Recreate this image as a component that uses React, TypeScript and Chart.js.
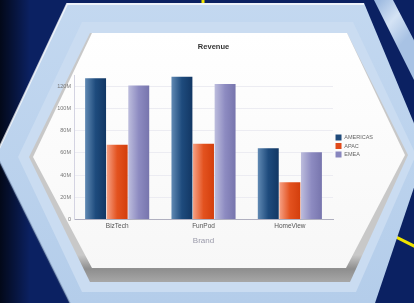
import React, { useEffect, useRef } from 'react';
import { Chart, registerables } from 'chart.js';

Chart.register(...registerables);

// ---- data (values in millions) ----
const brands = ['BizTech', 'FunPod', 'HomeView'];
const regionNames = ['AMERICAS', 'APAC', 'EMEA'];
const americas = [127, 128.5, 64.2];
const apac = [67.3, 68.2, 33.6];
const emea = [120.6, 122, 60.6];
const yTickValues = [0, 20, 40, 60, 80, 100, 120];
const yMax = 130;
const chartTitle = 'Revenue';
const xTitle = 'Brand';

const solidColors = ['#1f4a7a', '#e04a1a', '#8886be'];
const gradientStops = [
  ['#6089b3', '#1e4b7d', '#123764'],
  ['#f6a084', '#e3521f', '#d33e0c'],
  ['#bdbddd', '#8d8bc1', '#7775ad'],
];

const FONT = '"Liberation Sans", Arial, sans-serif';

function poly(ctx: CanvasRenderingContext2D, pts: number[][]) {
  ctx.beginPath();
  ctx.moveTo(pts[0][0], pts[0][1]);
  for (let i = 1; i < pts.length; i++) ctx.lineTo(pts[i][0], pts[i][1]);
  ctx.closePath();
}

const backdropPlugin = {
  id: 'backdrop',
  beforeDraw(chart: any) {
    const ctx: CanvasRenderingContext2D = chart.ctx;
    const W = chart.width;
    const H = chart.height;
    ctx.save();
    // navy background
    ctx.fillStyle = '#0b2162';
    ctx.fillRect(0, 0, W, H);
    const lg = ctx.createLinearGradient(0, 0, 30, 0);
    lg.addColorStop(0, 'rgba(0,0,0,0.75)');
    lg.addColorStop(1, 'rgba(0,0,0,0)');
    ctx.fillStyle = lg;
    ctx.fillRect(0, 0, 30, H);

    // yellow connector lines
    ctx.strokeStyle = '#f0e400';
    ctx.lineWidth = 3;
    ctx.beginPath();
    ctx.moveTo(203, 0);
    ctx.lineTo(203, 8);
    ctx.stroke();
    ctx.beginPath();
    ctx.moveTo(380, 229);
    ctx.lineTo(416, 247);
    ctx.stroke();

    // neighbouring frame strip (top right)
    const sg = ctx.createLinearGradient(380, 0, 414, 30);
    sg.addColorStop(0, '#9fbbe0');
    sg.addColorStop(0.5, '#d4e3f5');
    sg.addColorStop(1, '#a8c2e4');
    ctx.fillStyle = sg;
    poly(ctx, [[374, 0], [393, 0], [416, 44], [416, 84]]);
    ctx.fill();

    // outer hexagon frame
    const fg = ctx.createLinearGradient(0, 0, 0, H);
    fg.addColorStop(0, '#c3d8f0');
    fg.addColorStop(1, '#b4cdea');
    ctx.fillStyle = fg;
    poly(ctx, [[67, 3], [364, 3], [426, 152], [372, 312], [74, 312], [-4, 155]]);
    ctx.fill();
    // outer highlight edge
    ctx.strokeStyle = 'rgba(255,255,255,0.7)';
    ctx.lineWidth = 2;
    ctx.beginPath();
    ctx.moveTo(-4, 155);
    ctx.lineTo(67, 4);
    ctx.lineTo(364, 4);
    ctx.stroke();
    ctx.strokeStyle = 'rgba(60,80,120,0.35)';
    ctx.beginPath();
    ctx.moveTo(-4, 155);
    ctx.lineTo(74, 312);
    ctx.stroke();

    // inner bevel band
    ctx.fillStyle = '#cadcf1';
    poly(ctx, [[82, 22], [353, 22], [416, 155], [356, 292], [82, 292], [18, 157]]);
    ctx.fill();

    // panel shadow
    const pg = ctx.createLinearGradient(0, 255, 0, 283);
    pg.addColorStop(0, '#c8c8c8');
    pg.addColorStop(0.5, '#8e8e8e');
    pg.addColorStop(1, '#a9a9a9');
    ctx.fillStyle = pg;
    poly(ctx, [[90, 33], [347, 33], [408, 155], [350, 282], [90, 282], [29, 157]]);
    ctx.fill();

    // white panel
    const wg = ctx.createLinearGradient(0, 33, 0, 268);
    wg.addColorStop(0, '#ffffff');
    wg.addColorStop(1, '#f7f7f7');
    ctx.fillStyle = wg;
    poly(ctx, [[92, 33], [347, 33], [405, 155], [346, 268], [92, 268], [33, 157]]);
    ctx.fill();
    ctx.restore();
  },
};

const gradientBarsPlugin = {
  id: 'gradientBars',
  beforeDatasetsDraw(chart: any) {
    const ctx: CanvasRenderingContext2D = chart.ctx;
    chart.data.datasets.forEach((_ds: any, di: number) => {
      const meta = chart.getDatasetMeta(di);
      const stops = gradientStops[di];
      meta.data.forEach((el: any) => {
        const { x, width } = el.getProps(['x', 'width'], true);
        const g = ctx.createLinearGradient(x - width / 2, 0, x + width / 2, 0);
        g.addColorStop(0, stops[0]);
        g.addColorStop(0.5, stops[1]);
        g.addColorStop(1, stops[2]);
        el.options = Object.assign({}, el.options, { backgroundColor: g });
      });
    });
  },
};

export default function App() {
  const ref = useRef<HTMLCanvasElement | null>(null);

  useEffect(() => {
    if (!ref.current) return;
    const seriesValues = [americas, apac, emea];
    const chart = new Chart(ref.current, {
      type: 'bar',
      data: {
        labels: brands,
        datasets: regionNames.map((name, i) => ({
          label: name,
          data: seriesValues[i],
          backgroundColor: solidColors[i],
          borderWidth: 0,
          categoryPercentage: 0.75,
          barPercentage: 0.97,
        })),
      },
      options: {
        responsive: false,
        animation: false,
        devicePixelRatio: 1,
        layout: { padding: { top: 42, left: 44, right: 31, bottom: 53 } },
        plugins: {
          title: {
            display: true,
            text: chartTitle,
            color: '#333333',
            font: { family: FONT, size: 7.5, weight: 'bold' },
            padding: { top: 0, bottom: 24 },
          },
          legend: {
            position: 'right',
            labels: {
              boxWidth: 6,
              boxHeight: 6,
              padding: 2.5,
              color: '#666666',
              font: { family: FONT, size: 5.5 },
            },
          },
          tooltip: { enabled: false },
        },
        scales: {
          x: {
            grid: { display: false, drawTicks: false },
            border: { color: '#b0b0c0' },
            ticks: { color: '#555555', padding: 3, font: { family: FONT, size: 6.5 } },
            title: {
              display: true,
              text: xTitle,
              color: '#9a9aaa',
              font: { family: FONT, size: 8 },
              padding: { top: 3, bottom: 4 },
            },
          },
          y: {
            min: 0,
            max: yMax,
            afterBuildTicks: (s: any) => {
              s.ticks = yTickValues.map((v) => ({ value: v }));
            },
            afterFit: (s: any) => {
              s.width = 30;
            },
            grid: { color: '#ececf2', drawTicks: false },
            border: { color: '#d4d4e2' },
            ticks: {
              color: '#777777',
              padding: 3,
              font: { family: FONT, size: 5.5 },
              callback: (v: any) => (Number(v) === 0 ? '0' : `${v}M`),
            },
          },
        },
      },
      plugins: [backdropPlugin, gradientBarsPlugin],
    });
    return () => chart.destroy();
  }, []);

  return (
    <div style={{ position: 'absolute', left: 0, top: 0, width: 414, height: 303 }}>
      <canvas ref={ref} width={414} height={303} style={{ display: 'block', width: 414, height: 303 }} />
    </div>
  );
}
